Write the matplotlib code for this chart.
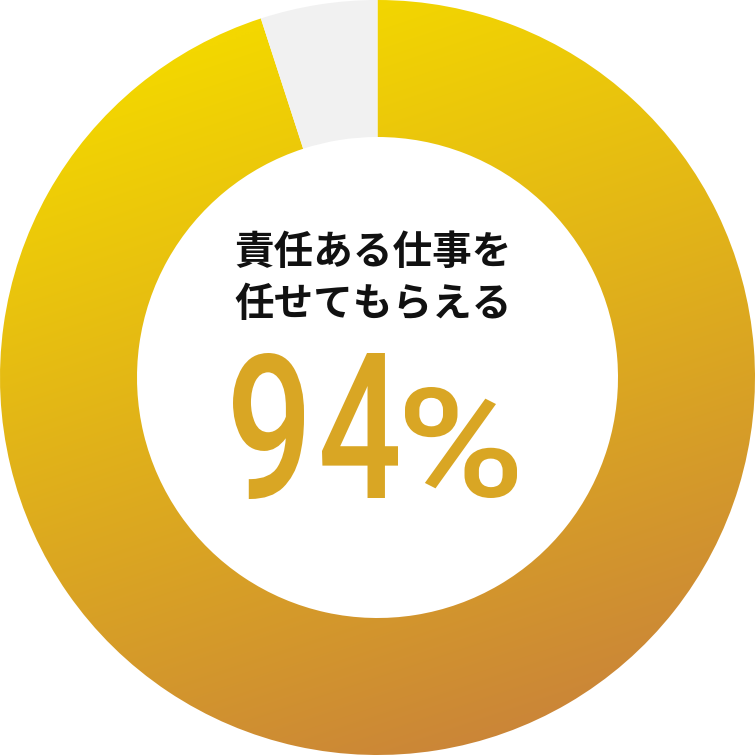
import numpy as np
import matplotlib
matplotlib.use("Agg")
import matplotlib.pyplot as plt
from matplotlib.textpath import TextPath
from matplotlib.font_manager import FontProperties
from matplotlib.patches import PathPatch
from matplotlib.transforms import Affine2D

# ---- data ----
segment_labels = ["任せてもらえる", "その他"]
segment_values = [95, 5]
title_lines = ["責任ある仕事を", "任せてもらえる"]
pct_digits = "94"
pct_sign = "%"

# ---- style ----
grad_start = np.array([0xF3, 0xD7, 0x00]) / 255.0
grad_end = np.array([0xC5, 0x7A, 0x40]) / 255.0
rest_color = "#F1F1F1"
pct_color = "#D9A624"
W = 755.0
R = W / 2.0

fig = plt.figure(figsize=(7.55, 7.55), dpi=100)
ax = fig.add_axes([0, 0, 1, 1])
ax.set_xlim(-1, 1)
ax.set_ylim(-1, 1)
ax.set_aspect("equal")
ax.axis("off")

inner_r = 240.5 / R
wedges, _ = ax.pie(segment_values, startangle=90, counterclock=False, radius=1,
                   colors=["none", rest_color],
                   wedgeprops=dict(width=1 - inner_r, linewidth=0, edgecolor="none"))
ax.set_xlim(-1, 1)
ax.set_ylim(-1, 1)

# gradient fill clipped to main wedge
n = 500
xs = np.linspace(-1, 1, n)
ys = np.linspace(-1, 1, n)  # top to bottom (rows)
X, Y = np.meshgrid(xs, ys)
t = 0.43 + 0.14 * X + 0.42 * Y
t = np.clip(t, 0, 1)
img = grad_start[None, None, :] * (1 - t[..., None]) + grad_end[None, None, :] * t[..., None]
im = ax.imshow(img, extent=[-1, 1, -1, 1], origin="upper", interpolation="bilinear", zorder=1)
im.set_clip_path(wedges[0])
wedges[1].set_zorder(2)


def px2d(px, py):
    return (px - R) / R, (R - py) / R


# title text
jp = ["Noto Sans CJK JP", "DejaVu Sans"]
for line, py in zip(title_lines, [253, 305]):
    x, y = px2d(373, py)
    ax.text(x, y, line, fontsize=28.5, fontweight="bold", family=jp, color="#111111",
            ha="center", va="center", zorder=5)

# big percentage, fitted glyph by glyph
fp = FontProperties(family="Roboto", weight="medium")


def glyph_extents(tp):
    v = tp.vertices
    origin = (np.abs(v[:, 0]) < 1e-9) & (np.abs(v[:, 1]) < 1e-9)
    v = v[~origin]
    return v.min(axis=0), v.max(axis=0)


def fit_glyph(ch, box, color):
    x0, y0, x1, y1 = box
    tp = TextPath((0, 0), ch, size=100, prop=fp)
    (ex0, ey0), (ex1, ey1) = glyph_extents(tp)
    dx0, dy1 = px2d(x0, y0)
    dx1, dy0 = px2d(x1, y1)
    sx = (dx1 - dx0) / (ex1 - ex0)
    sy = (dy1 - dy0) / (ey1 - ey0)
    tr = Affine2D().translate(-ex0, -ey0).scale(sx, sy).translate(dx0, dy0)
    path = tr.transform_path(tp)
    ax.add_patch(PathPatch(path, facecolor=color, edgecolor="none", zorder=5))


fit_glyph(pct_digits[0], (233, 353, 304, 499), pct_color)
fit_glyph(pct_digits[1], (322, 353, 398, 498), pct_color)
fit_glyph(pct_sign, (405, 387, 517, 498), pct_color)

fig.savefig("out.png", dpi=100, facecolor="white")
